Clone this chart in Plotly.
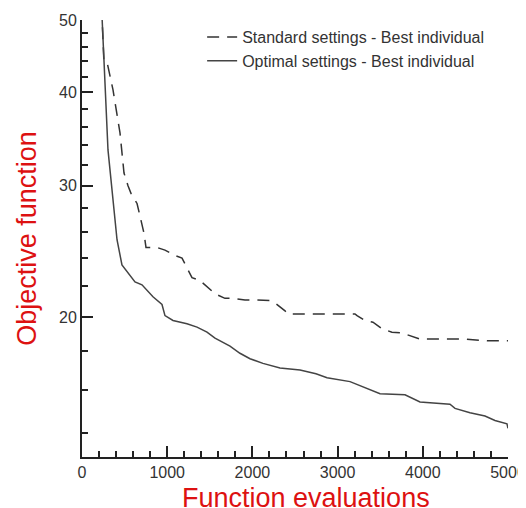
import plotly.graph_objects as go

# Data (function evaluations vs objective function)
std_evals = [230, 258, 300, 364, 446, 493, 540, 575, 646, 728, 751, 880, 974, 1092, 1174,
             1232, 1291, 1385, 1479, 1561, 1678, 1772, 1913, 2031, 2207, 2265, 2383, 2418,
             3204, 3228, 3322, 3415, 3521, 3638, 3756, 3850, 3967, 4495, 4754, 5000]
std_obj = [52.0, 43.8, 43.6, 40.3, 35.3, 31.2, 30.0, 29.3, 28.4, 25.9, 24.8, 24.8, 24.6, 24.2, 24.0,
           23.3, 22.6, 22.4, 21.9, 21.5, 21.2, 21.2, 21.1, 21.1, 21.05, 20.9, 20.4, 20.2,
           20.2, 20.1, 19.8, 19.7, 19.3, 19.1, 19.05, 18.9, 18.7, 18.7, 18.6, 18.6]

opt_evals = [230, 305, 411, 469, 622, 704, 833, 939, 974, 1068, 1232, 1350, 1467, 1561, 1737,
             1854, 1972, 2124, 2324, 2559, 2746, 2876, 3146, 3322, 3498, 3791, 3967, 4319,
             4378, 4554, 4730, 4847, 4988, 5000]
opt_obj = [52.0, 33.5, 25.4, 23.5, 22.3, 22.1, 21.3, 20.8, 20.1, 19.8, 19.6, 19.4, 19.1, 18.75, 18.3,
           17.9, 17.6, 17.35, 17.1, 17.0, 16.8, 16.6, 16.4, 16.1, 15.8, 15.75, 15.4, 15.3,
           15.1, 14.9, 14.75, 14.55, 14.4, 14.2]

x_ticks = [0, 1000, 2000, 3000, 4000, 5000]
y_ticks = [20, 30, 40, 50]
y_minor = [14, 16, 18, 22, 24, 26, 28, 32, 34, 36, 38, 42, 44, 46, 48]

x_title = "Function evaluations"
y_title = "Objective function"

fig = go.Figure()
fig.add_trace(go.Scatter(x=std_evals, y=std_obj, mode="lines",
                         name="Standard settings - Best individual",
                         line=dict(color="#333333", width=1.5, dash="12px,8px")))
fig.add_trace(go.Scatter(x=opt_evals, y=opt_obj, mode="lines",
                         name="Optimal settings - Best individual",
                         line=dict(color="#444444", width=1.5)))

axis_common = dict(showline=True, linewidth=2, linecolor="#222222", showgrid=False,
                   zeroline=False, ticks="inside", ticklen=11, tickwidth=2,
                   tickcolor="#222222", tickfont=dict(size=16, color="#333333"),
                   automargin=False, ticklabeloverflow="allow")

# The page body has an 8px margin, so the figure is sized to fit the 526x508 window.
fig.update_layout(
    width=518, height=500,
    margin=dict(l=74, r=18, t=12, b=51),
    paper_bgcolor="white", plot_bgcolor="white",
    font=dict(family="Liberation Sans, Arial, sans-serif"),
    legend=dict(x=0.282, y=1.0, xanchor="left", yanchor="top",
                bgcolor="rgba(0,0,0,0)", font=dict(size=16, color="#333333"),
                tracegroupgap=0),
    xaxis=dict(range=[0, 5000], tickvals=x_ticks,
               minor=dict(dtick=200, tick0=0, ticks="inside", ticklen=6,
                          tickwidth=1.5, tickcolor="#222222"),
               **axis_common),
    yaxis=dict(type="log", range=[1.11394, 1.69897], tickvals=y_ticks,
               minor=dict(tickmode="array", tickvals=y_minor, ticks="inside",
                          ticklen=6, tickwidth=1.5, tickcolor="#222222"),
               title=dict(text=y_title,
                          font=dict(size=27, color="#dd1111")),
               **axis_common),
    annotations=[dict(text=x_title, xref="paper", yref="paper",
                      x=0.526, y=-0.057, xanchor="center", yanchor="top",
                      showarrow=False, borderpad=0,
                      font=dict(size=27, color="#dd1111"))],
)

fig.write_html("out.html")
